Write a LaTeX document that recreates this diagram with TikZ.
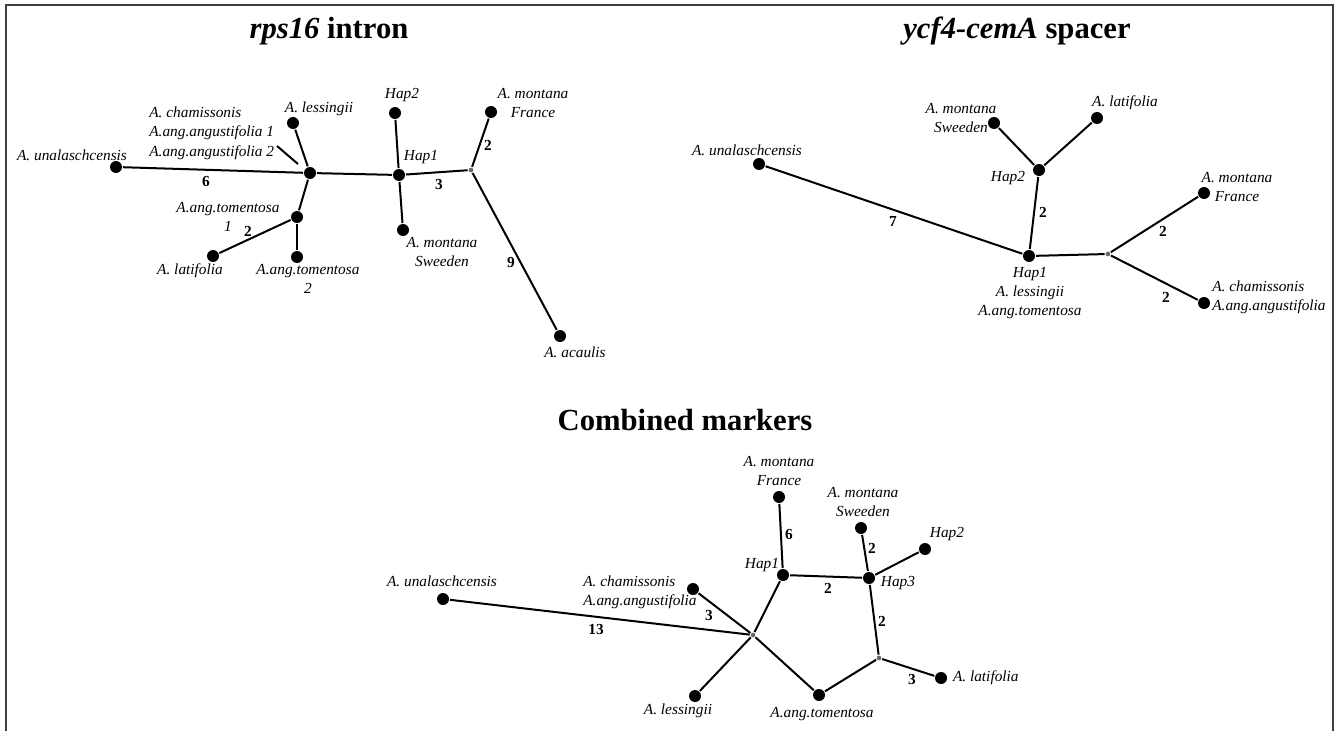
\documentclass[tikz,border=0pt]{standalone}
\usepackage{fontspec}
\setmainfont{Liberation Serif}
\usetikzlibrary{positioning}

\tikzset{
  hap/.style={circle,fill=black,inner sep=0pt,minimum size=9pt},
  mv/.style={circle,fill=gray!80!black,inner sep=0pt,minimum size=3.5pt},
  lab/.style={font=\fontsize{11.5}{14.5}\selectfont\itshape,inner sep=1pt,align=center},
  num/.style={font=\fontsize{11.5}{13}\selectfont\bfseries,inner sep=1pt},
  ttl/.style={font=\fontsize{23}{26}\selectfont\bfseries,inner sep=0pt}
}

\begin{document}
\begin{tikzpicture}[x=0.75pt,y=-0.75pt,line width=1.5pt]
        \useasboundingbox (0,0) rectangle (1338,731);
        \draw[line width=1.5pt,black!75] (6,731) -- (6,5) -- (1333,5) -- (1333,731);

        \node[ttl](T1) at (329,31) {\textit{rps16} intron};
        \node[ttl](T2) at (1017,31) {\textit{ycf4-cemA} spacer};
        \node[ttl](T3) at (685,420) {Combined markers};

        \node[hap](R1) at (116,167) {};
        \node[hap](R2) at (310,173) {};
        \node[hap](R3) at (293,123) {};
        \node[hap](R4) at (297,217) {};
        \node[hap](R5) at (213,256) {};
        \node[hap](R6) at (297,257) {};
        \node[hap](R7) at (399,175) {};
        \node[hap](R8) at (395,113) {};
        \node[hap](R9) at (403,230) {};
        \node[mv](R10) at (471,170) {};
        \node[hap](R11) at (491,112) {};
        \node[hap](R12) at (560,336) {};
        \coordinate(Rt1) at (277,146);
        \coordinate(Rt2) at (298,164);
        \draw(R1) -- (R2);
        \draw(R2) -- (R3);
        \draw(R2) -- (R4);
        \draw(R4) -- (R5);
        \draw(R4) -- (R6);
        \draw(R2) -- (R7);
        \draw(R7) -- (R8);
        \draw(R7) -- (R9);
        \draw(R7) -- (R10);
        \draw(R10) -- (R11);
        \draw(R10) -- (R12);
        \draw(Rt1) -- (Rt2);
        \node[lab](RL1) at (72,155) {A. unalaschcensis};
        \node[lab,align=left,anchor=west](RL2) at (147,133) {A. chamissonis\\A.ang.angustifolia 1\\A.ang.angustifolia 2};
        \node[lab](RL3) at (319,109) {A. lessingii};
        \node[lab](RL4) at (228,217) {A.ang.tomentosa\\1};
        \node[lab](RL5) at (190,271) {A. latifolia};
        \node[lab](RL6) at (308,279) {A.ang.tomentosa\\2};
        \node[lab](RL7) at (421,157) {Hap1};
        \node[lab](RL8) at (402,95) {Hap2};
        \node[lab](RL9) at (442,252) {A. montana\\Sweeden};
        \node[lab](RL10) at (533,103) {A. montana\\France};
        \node[lab](RL11) at (575,352) {A. acaulis};
        \node[num](RN1) at (206,181) {6};
        \node[num](RN2) at (248,231) {2};
        \node[num](RN3) at (439,184) {3};
        \node[num](RN4) at (488,145) {2};
        \node[num](RN5) at (511,262) {9};

        \node[hap](Y1) at (759,164) {};
        \node[hap](Y2) at (1029,256) {};
        \node[hap](Y3) at (1039,170) {};
        \node[hap](Y4) at (994,123) {};
        \node[hap](Y5) at (1097,118) {};
        \node[mv](Y6) at (1108,254) {};
        \node[hap](Y7) at (1204,193) {};
        \node[hap](Y8) at (1204,303) {};
        \draw(Y1) -- (Y2);
        \draw(Y2) -- (Y3);
        \draw(Y3) -- (Y4);
        \draw(Y3) -- (Y5);
        \draw(Y2) -- (Y6);
        \draw(Y6) -- (Y7);
        \draw(Y6) -- (Y8);
        \node[lab](YL1) at (747,150) {A. unalaschcensis};
        \node[lab](YL2) at (1030,293) {Hap1\\A. lessingii\\A.ang.tomentosa};
        \node[lab](YL3) at (1008,178) {Hap2};
        \node[lab](YL4) at (961,118) {A. montana\\Sweeden};
        \node[lab](YL5) at (1125,103) {A. latifolia};
        \node[lab](YL6) at (1237,187) {A. montana\\France};
        \node[lab,align=left,anchor=west](YL7) at (1210,297) {A. chamissonis\\A.ang.angustifolia};
        \node[num](YN1) at (893,221) {7};
        \node[num](YN2) at (1043,212) {2};
        \node[num](YN3) at (1163,231) {2};
        \node[num](YN4) at (1166,297) {2};

        \node[hap](C1) at (443,599) {};
        \node[mv](C2) at (753,635) {};
        \node[hap](C3) at (693,589) {};
        \node[hap](C4) at (695,696) {};
        \node[hap](C5) at (783,575) {};
        \node[hap](C6) at (779,497) {};
        \node[hap](C7) at (819,695) {};
        \node[hap](C8) at (869,578) {};
        \node[hap](C9) at (861,528) {};
        \node[hap](C10) at (925,549) {};
        \node[mv](C11) at (879,658) {};
        \node[hap](C12) at (941,678) {};
        \draw(C1) -- (C2);
        \draw(C3) -- (C2);
        \draw(C4) -- (C2);
        \draw(C2) -- (C5);
        \draw(C2) -- (C7);
        \draw(C5) -- (C6);
        \draw(C5) -- (C8);
        \draw(C8) -- (C9);
        \draw(C8) -- (C10);
        \draw(C8) -- (C11);
        \draw(C11) -- (C7);
        \draw(C11) -- (C12);
        \node[lab](CL1) at (442,581) {A. unalaschcensis};
        \node[lab,align=left,anchor=west](CL2) at (581,592) {A. chamissonis\\A.ang.angustifolia};
        \node[lab](CL3) at (678,711) {A. lessingii};
        \node[lab](CL4) at (762,565) {Hap1};
        \node[lab](CL5) at (779,471) {A. montana\\France};
        \node[lab](CL6) at (822,714) {A.ang.tomentosa};
        \node[lab](CL7) at (898,583) {Hap3};
        \node[lab](CL8) at (863,502) {A. montana\\Sweeden};
        \node[lab](CL9) at (947,534) {Hap2};
        \node[lab,right=2pt of C12](CL10) {A. latifolia};
        \node[num](CN1) at (596,629) {13};
        \node[num](CN2) at (709,615) {3};
        \node[num](CN3) at (789,534) {6};
        \node[num](CN4) at (828,588) {2};
        \node[num](CN5) at (872,548) {2};
        \node[num](CN6) at (882,621) {2};
        \node[num](CN7) at (912,679) {3};
\end{tikzpicture}
\end{document}
